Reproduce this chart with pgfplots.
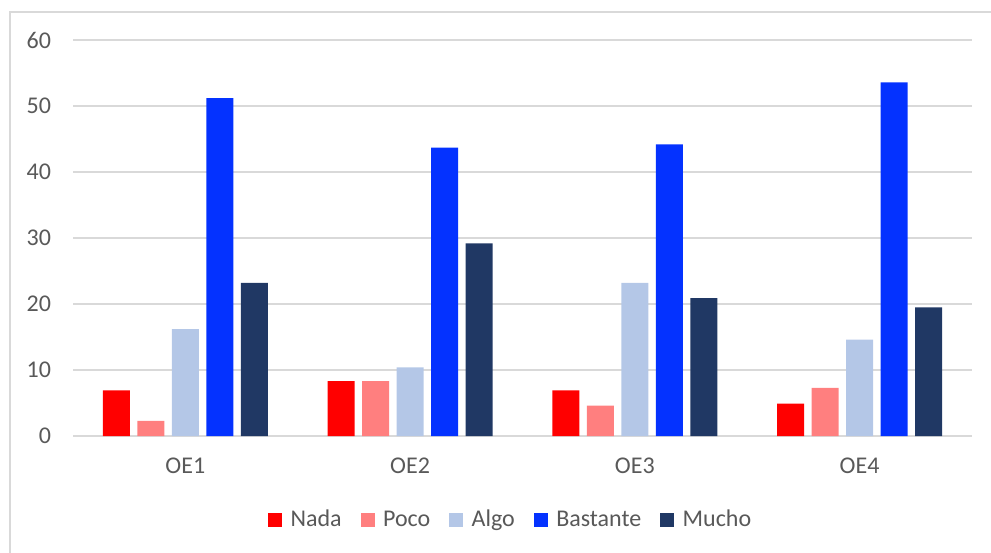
\documentclass[border=0pt]{standalone}
\usepackage{fontspec}
\setmainfont{Carlito}
\usepackage{pgfplots}
\pgfplotsset{compat=1.18}

\definecolor{nada}{HTML}{FF0000}
\definecolor{poco}{HTML}{FF7F7F}
\definecolor{algo}{HTML}{B4C7E7}
\definecolor{bastante}{HTML}{0432FF}
\definecolor{mucho}{HTML}{203864}
\definecolor{gridgray}{HTML}{D9D9D9}
\definecolor{txtgray}{HTML}{595959}

\begin{document}
\begin{tikzpicture}
\useasboundingbox (-36.5pt,-58pt) rectangle (459pt,218pt);
\draw[gridgray, line width=0.75pt] (-31.5pt,-60pt) -- (-31.5pt,212pt) -- (462pt,212pt);
\begin{axis}[
    at={(0pt,0pt)}, anchor=south west,
    width=449.5pt, height=198pt, scale only axis,
    ybar=3.75pt, bar width=13.5pt,
    xmin=-0.5, xmax=3.5, ymin=0, ymax=60,
    xtick=data, xticklabels={OE1,OE2,OE3,OE4},
    ytick={0,10,...,60},
    ymajorgrids, grid style={gridgray, line width=0.75pt},
    axis line style={draw=none},
    major tick length=0pt,
    tick label style={font=\fontsize{12pt}{14pt}\selectfont, text=txtgray},
    /pgf/number format/assume math mode=true,
    yticklabel style={xshift=-7.5pt},
    xticklabel style={yshift=-7.5pt},
    legend style={draw=none, at={(0.488,-0.212)}, anchor=center,
        font=\fontsize{12pt}{14pt}\selectfont, text=txtgray,
        legend columns=-1,
        /tikz/every odd column/.append style={column sep=2.2pt},
        /tikz/every even column/.append style={column sep=7.5pt}},
    legend image code/.code={\fill[#1] (0pt,-3.5pt) rectangle (7pt,3.5pt);},
]
\addplot[fill=nada, draw=none] coordinates {(0,6.9) (1,8.3) (2,6.9) (3,4.9)};
\addplot[fill=poco, draw=none] coordinates {(0,2.3) (1,8.3) (2,4.6) (3,7.3)};
\addplot[fill=algo, draw=none] coordinates {(0,16.2) (1,10.4) (2,23.2) (3,14.6)};
\addplot[fill=bastante, draw=none] coordinates {(0,51.2) (1,43.7) (2,44.2) (3,53.6)};
\addplot[fill=mucho, draw=none] coordinates {(0,23.2) (1,29.2) (2,20.9) (3,19.5)};
\legend{Nada,Poco,Algo,Bastante,Mucho}
\end{axis}
\end{tikzpicture}
\end{document}
